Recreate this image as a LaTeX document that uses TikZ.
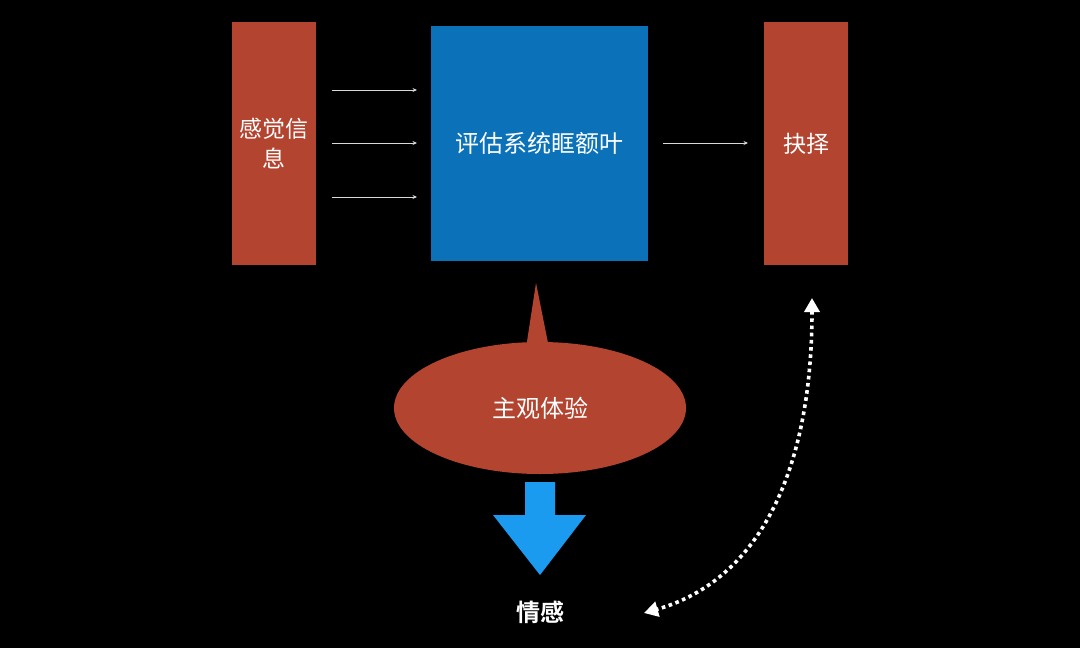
\documentclass[tikz,border=0pt]{standalone}
\usepackage{fontspec}
\setmainfont{Noto Sans CJK SC}
\newfontfamily\cjkbold[BoldFont={* Bold}]{Noto Sans CJK SC}
\usetikzlibrary{arrows.meta,shapes.geometric}
\definecolor{rbox}{HTML}{B3442F}
\definecolor{bbox}{HTML}{0B72B9}
\definecolor{barrow}{HTML}{1A9BF0}
\begin{document}
\begin{tikzpicture}[x=1pt,y=-1pt,
  redbox/.style={fill=rbox,draw=none,minimum width=84pt,minimum height=243pt,inner sep=0pt},
  lbl/.style={text=white,align=center,font=\fontsize{23}{30}\selectfont},
  thinarrow/.style={draw=white!85!black,line width=0.9pt,-{Stealth[length=4.5pt,width=4pt]}},
  dotarrow/.style={draw=white,line width=3.6pt,dash pattern=on 3.6pt off 3.6pt,{Triangle[length=14pt,width=15pt]}-{Triangle[length=14pt,width=15pt]}}]
\fill[black] (0,0) rectangle (1080,648);
\node[redbox] (sense) at (274,143.5) {};
\node[lbl] (senset) at (274,143.5) {感觉信\\息};
\node[fill=bbox,minimum width=217pt,minimum height=235pt,inner sep=0pt] (eval) at (539.5,143.5) {};
\node[lbl,font=\fontsize{24}{30}\selectfont] (evalt) at (539.5,143.5) {评估系统眶额叶};
\node[redbox] (choice) at (806,143.5) {};
\node[lbl] (choicet) at (806,143.5) {抉择};
% arrows
\coordinate (s1) at (332,90); \coordinate (e1) at (417,90);
\coordinate (s2) at (332,143); \coordinate (e2) at (417,143);
\coordinate (s3) at (332,197); \coordinate (e3) at (417,197);
\coordinate (s4) at (663,143); \coordinate (e4) at (748,143);
\draw[thinarrow] (s1) -- (e1);
\draw[thinarrow] (s2) -- (e2);
\draw[thinarrow] (s3) -- (e3);
\draw[thinarrow] (s4) -- (e4);
% callout ellipse
\coordinate (tip) at (536,283);
\fill[rbox] (526,348) -- (tip) -- (549,348) -- cycle;
\node[ellipse,fill=rbox,minimum width=292pt,minimum height=132pt,inner sep=0pt] (subj) at (540,408) {};
\node[lbl,font=\fontsize{24}{30}\selectfont] (subjt) at (540,408) {主观体验};
% blue arrow
\fill[barrow] (525,482) -- (555,482) -- (555,515) -- (586,515) -- (540,575) -- (493,515) -- (525,515) -- cycle;
\node[text=white,font=\cjkbold\bfseries\fontsize{24}{30}\selectfont] (emo) at (540,612) {情感};
% dotted curved arrow
\coordinate (top) at (812,298);
\coordinate (bot) at (644,613);
\draw[dotarrow] (top) .. controls (812,470) and (760,580) .. (bot);
\end{tikzpicture}
\end{document}
